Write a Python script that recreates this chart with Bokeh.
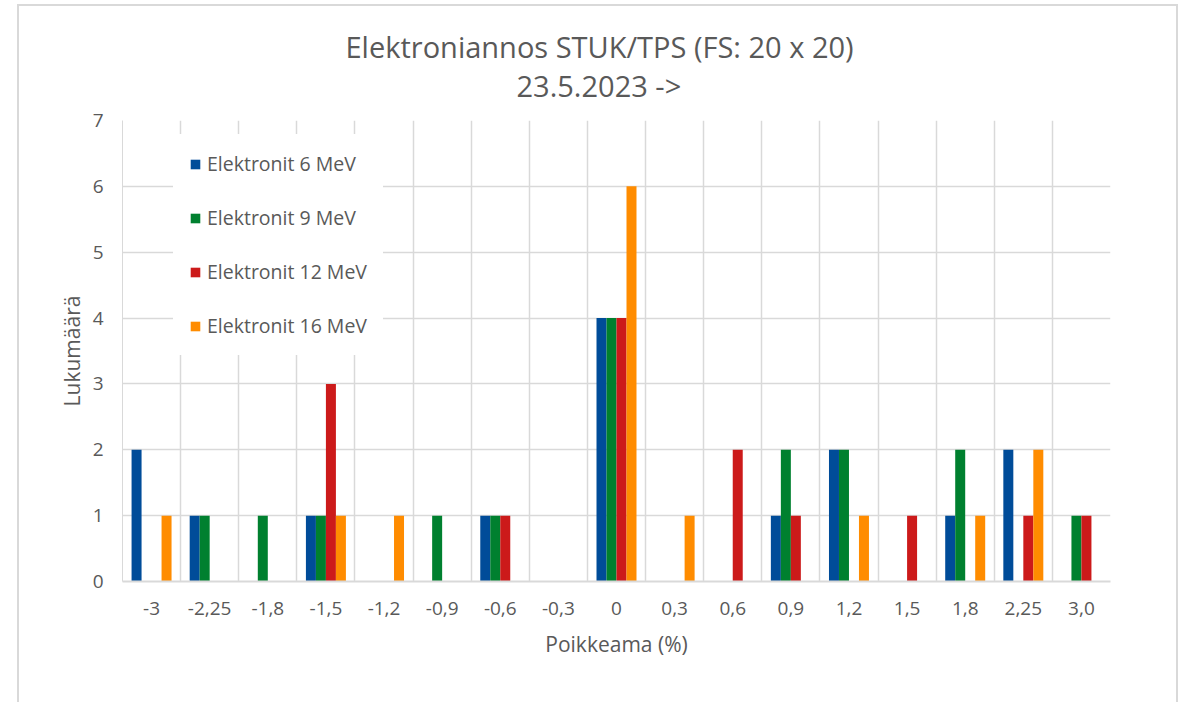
from bokeh.plotting import figure
from bokeh.models import Range1d, FixedTicker, Legend, LegendItem, Title
from bokeh.embed import file_html
from bokeh.resources import INLINE

categories = ["-3", "-2,25", "-1,8", "-1,5", "-1,2", "-0,9", "-0,6", "-0,3", "0",
              "0,3", "0,6", "0,9", "1,2", "1,5", "1,8", "2,25", "3,0"]
series_names = ["Elektronit 6 MeV", "Elektronit 9 MeV", "Elektronit 12 MeV", "Elektronit 16 MeV"]
e6 = [2, 1, 0, 1, 0, 0, 1, 0, 4, 0, 0, 1, 2, 0, 1, 2, 0]
e9 = [0, 1, 1, 1, 0, 1, 1, 0, 4, 0, 0, 2, 2, 0, 2, 0, 1]
e12 = [0, 0, 0, 3, 0, 0, 1, 0, 4, 0, 2, 1, 0, 1, 0, 1, 1]
e16 = [1, 0, 0, 1, 1, 0, 0, 0, 6, 1, 0, 0, 1, 0, 1, 2, 0]
colors = ["#004C99", "#00802F", "#CC1A1A", "#FF8C00"]
title_lines = ["Elektroniannos STUK/TPS (FS: 20 x 20)", "23.5.2023 ->"]

TXT = "#595959"
GRID = "#d9d9d9"
FONT = "Open Sans"

n = len(categories)
p = figure(width=1161, height=698, x_range=Range1d(0, n), y_range=Range1d(0, 7),
           output_backend="svg", toolbar_location=None,
           min_border_left=103, min_border_right=70, min_border_top=114, min_border_bottom=123,
           margin=(4, 0, 0, 17),
           styles={"border": "2px solid #d9d9d9", "border-bottom": "none"})
p.outline_line_color = None
p.background_fill_color = "white"
p.border_fill_color = "white"

bar_w = 0.172
offsets = [-0.258, -0.086, 0.086, 0.258]
renderers = []
for vals, col, off in zip([e6, e9, e12, e16], colors, offsets):
    xs = [i + 0.5 + off for i in range(n)]
    r = p.vbar(x=xs, top=vals, bottom=0, width=bar_w, fill_color=col, line_color=None)
    renderers.append(r)

# axes
p.xaxis.ticker = FixedTicker(ticks=[i + 0.5 for i in range(n)])
p.xaxis.major_label_overrides = {i + 0.5: c for i, c in enumerate(categories)}
p.yaxis.ticker = FixedTicker(ticks=list(range(0, 8)))
for ax in (p.xaxis[0], p.yaxis[0]):
    ax.major_tick_line_color = None
    ax.minor_tick_line_color = None
    ax.axis_line_color = GRID
    ax.major_label_text_color = TXT
    ax.major_label_text_font = FONT
    ax.major_label_text_font_size = "19px"
    ax.axis_label_text_color = TXT
    ax.axis_label_text_font = FONT
    ax.axis_label_text_font_size = "21px"
    ax.axis_label_text_font_style = "normal"
p.xaxis.axis_line_width = 2
p.xaxis.major_label_standoff = 14
p.yaxis.major_label_standoff = 13
p.xaxis.axis_label = "Poikkeama (%)"
p.yaxis.axis_label = "Lukumäärä"
p.xaxis.axis_label_standoff = 12
p.yaxis.axis_label_standoff = 4

p.xgrid.ticker = FixedTicker(ticks=list(range(0, n + 1)))
p.xgrid.grid_line_color = GRID
p.xgrid.grid_line_width = 1.5
p.ygrid.grid_line_color = GRID
p.ygrid.grid_line_width = 1.5

# titles (second line nearest to the plot)
t2 = Title(text=title_lines[1], align="left", offset=394, text_font=FONT,
           text_font_size="29px", text_font_style="normal", text_color=TXT, standoff=31)
t1 = Title(text=title_lines[0], align="left", offset=223, text_font=FONT,
           text_font_size="29px", text_font_style="normal", text_color=TXT, standoff=-35)
p.add_layout(t2, "above")
p.add_layout(t1, "above")

legend = Legend(items=[LegendItem(label=nm, renderers=[r]) for nm, r in zip(series_names, renderers)],
                location=(51, 226), orientation="vertical",
                background_fill_color="white", background_fill_alpha=1.0,
                border_line_color="white", padding=15, spacing=27,
                glyph_width=12, glyph_height=12, label_height=20,
                label_standoff=6, label_text_font=FONT, label_text_font_size="19.5px",
                label_text_color=TXT, margin=0)
p.add_layout(legend, "center")

open("out.html", "w").write(file_html(p, INLINE))
